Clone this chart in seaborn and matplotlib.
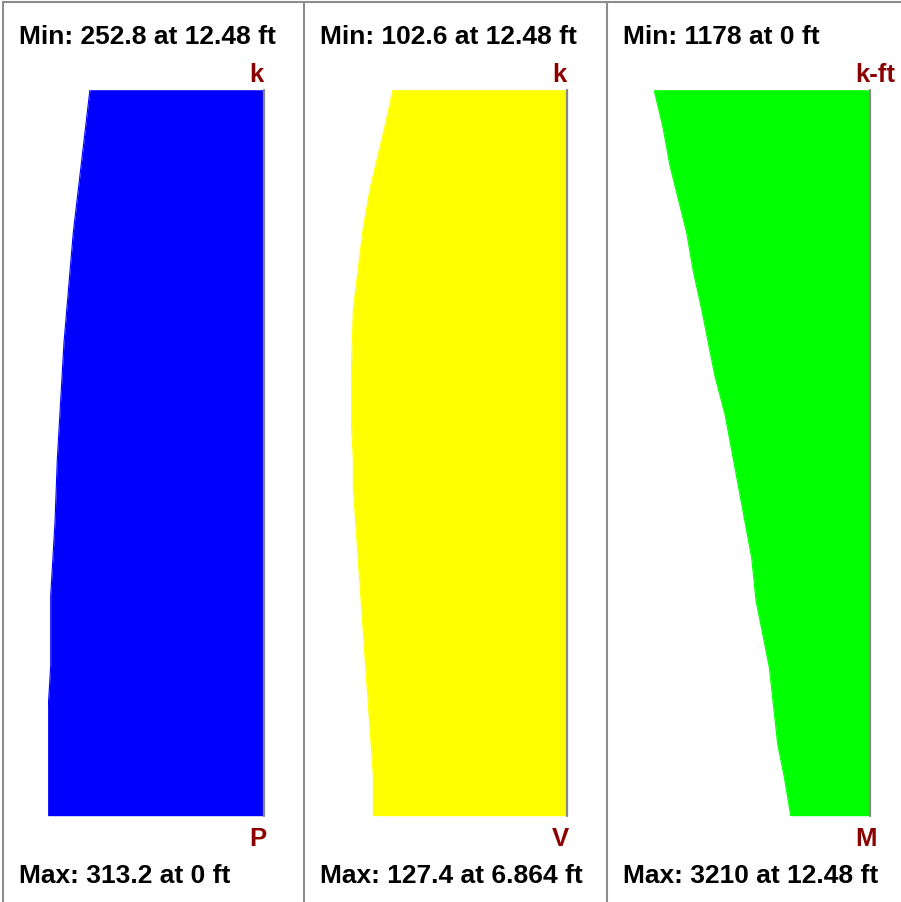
import numpy as np
import pandas as pd
import matplotlib
matplotlib.use("Agg")
import matplotlib.pyplot as plt
from matplotlib.lines import Line2D
import seaborn as sns

# stations along the member (ft) and force values
stations_p = [0, 1.89, 2.58, 3.78, 5.04, 6.13, 8.14, 10.03, 12.48]
axial_p = [313.2, 313.2, 309.7, 309.7, 303.5, 300.1, 290.4, 276.9, 252.8]

stations_v = [0, 0.69, 2.30, 3.73, 5.62, 6.13, 6.864, 7.51, 8.71, 10.03, 10.77, 11.92, 12.48]
shear_v = [114.2, 114.2, 118.1, 121.5, 126.0, 126.0, 127.4, 127.3, 126.0, 120.5, 116.2, 106.8, 102.6]

stations_m = [0, 0.66, 1.23, 2.55, 3.70, 4.43, 6.90, 7.55, 8.70, 9.36, 10.02, 11.17, 11.86, 12.48]
moment_m = [1178, 1273, 1372, 1496, 1694, 1758, 2155, 2303, 2501, 2626, 2724, 2972, 3081, 3210]

min_labels = ['Min: 252.8 at 12.48 ft', 'Min: 102.6 at 12.48 ft', 'Min: 1178 at 0 ft']
max_labels = ['Max: 313.2 at 0 ft', 'Max: 127.4 at 6.864 ft', 'Max: 3210 at 12.48 ft']
units = ['k', 'k', 'k-ft']
names = ['P', 'V', 'M']
colors = ['#0000ff', '#ffff00', '#00ff00']

sns.set_theme(style="white")
plt.rcParams['font.family'] = ['Liberation Sans', 'DejaVu Sans']

W, H = 901, 903
fig = plt.figure(figsize=(W / 100, H / 100), dpi=100)

data = [(stations_p, axial_p), (stations_v, shear_v), (stations_m, moment_m)]
baselines = [264.3, 567, 870]
panel_left = [3, 304, 607]
length = 12.48

for i, (pos, val) in enumerate(data):
    df = pd.DataFrame({'pos': pos, 'val': val})
    base = baselines[i]
    ax = fig.add_axes([(base - 216) / W, (H - 816.7) / H, 216 / W, 726 / H])
    ax.fill_betweenx(df['pos'], 0, df['val'], color=colors[i], lw=0)
    sns.lineplot(data=df, x='val', y='pos', orient='y', color=colors[i], lw=0.8, ax=ax)
    ax.axvline(0, color='#888888', lw=1.6, clip_on=False)
    ax.set_xlim(max(val), 0)
    ax.set_ylim(0, length)
    ax.axis('off')

    x0 = panel_left[i] + 16
    fig.text(x0 / W, 1 - 44.3 / H, min_labels[i], fontsize=19, fontweight='bold',
             color='black', ha='left', va='baseline')
    fig.text(x0 / W, 1 - 883.3 / H, max_labels[i], fontsize=19, fontweight='bold',
             color='black', ha='left', va='baseline')
    fig.text((base - 15) / W, 1 - 82 / H, units[i], fontsize=18.5, fontweight='bold',
             color='#8b0000', ha='left', va='baseline')
    fig.text((base - 15) / W, 1 - 845.7 / H, names[i], fontsize=18.5, fontweight='bold',
             color='#8b0000', ha='left', va='baseline')

# panel borders
for x in panel_left:
    fig.add_artist(Line2D([x / W, x / W], [0, 1 - 3.3 / H], color='#8c8c8c', lw=1.5))
fig.add_artist(Line2D([3 / W, 1], [1 - 3.3 / H, 1 - 3.3 / H], color='#8c8c8c', lw=1.5))

fig.savefig('out.png', dpi=100)
